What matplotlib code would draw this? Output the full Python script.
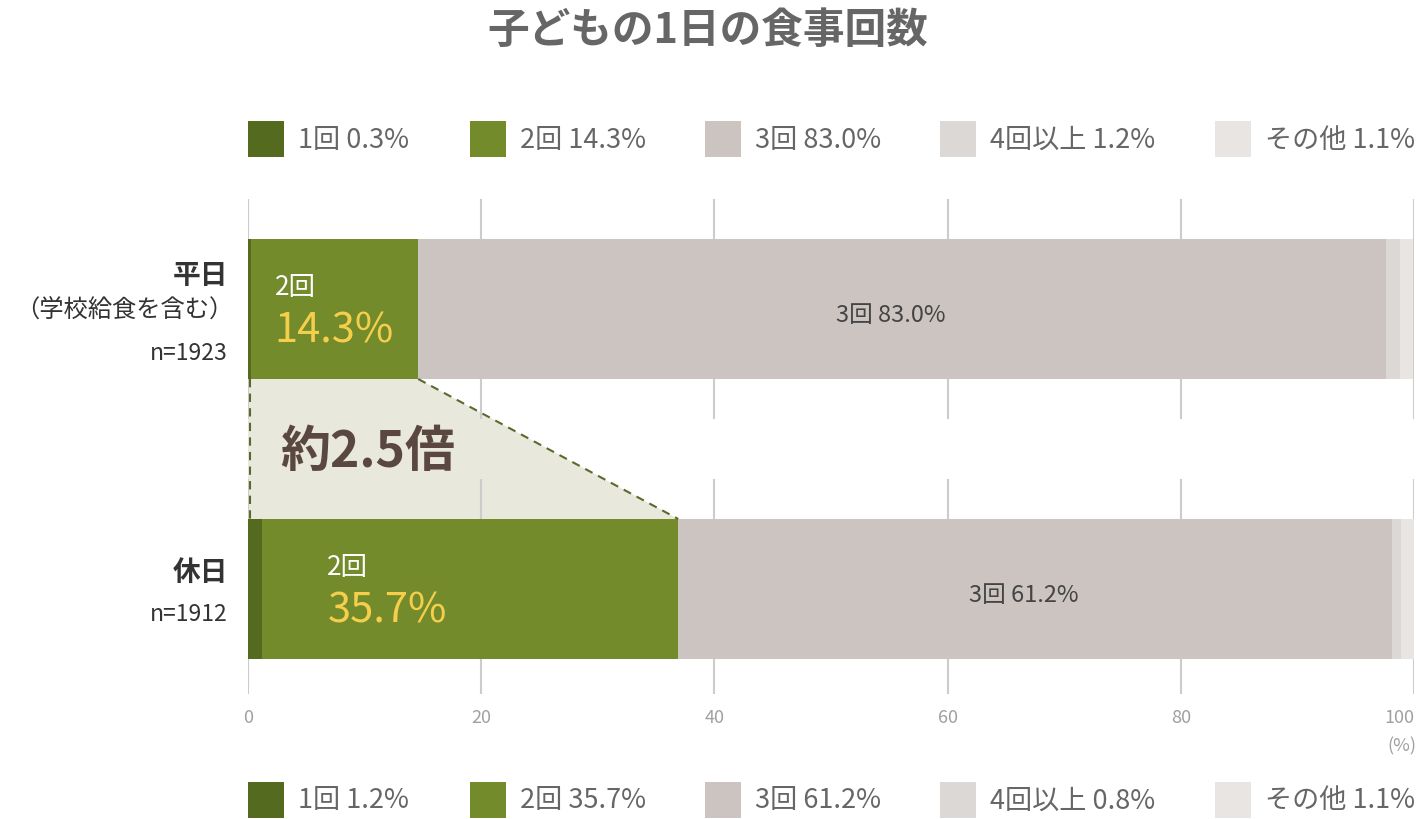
#!/usr/bin/env python3
import numpy as np
import matplotlib
matplotlib.use('Agg')
from matplotlib import pyplot as plt
from matplotlib.patches import Rectangle, Polygon

plt.rcParams['font.family'] = ['Noto Sans CJK JP', 'DejaVu Sans']

# data
title = '子どもの1日の食事回数'
categories = ['1回', '2回', '3回', '4回以上', 'その他']
weekday = [0.3, 14.3, 83.0, 1.2, 1.1]
holiday = [1.2, 35.7, 61.2, 0.8, 1.1]
row_names = ['平日', '休日']
row_notes = ['（学校給食を含む）', '']
row_n = ['n=1923', 'n=1912']
ratio_label = '約2.5倍'
xticks = [0, 20, 40, 60, 80, 100]

colors = ['#546a1e', '#738b2a', '#cbc4c0', '#dcd8d5', '#e9e5e2']

W, H = 1416, 820
fig = plt.figure(figsize=(W / 100, H / 100), dpi=100)


def fx(x):
    return x / W


def fy(y):
    return 1 - y / H


ax = fig.add_axes([fx(248), fy(695), fx(1414) - fx(248), (695 - 200) / H])
ax.set_xlim(0, 100)
ax.set_ylim(1.375, -0.393)

# gridlines broken in the middle
ax.vlines(xticks, -0.393, 0.393, color='#cccccc', lw=1.5, zorder=1)
ax.vlines(xticks, 0.607, 1.375, color='#cccccc', lw=1.5, zorder=1)

rows = [weekday, holiday]
bar_h = 0.5
for i, vals in enumerate(rows):
    left = 0
    for j, v in enumerate(vals):
        ax.barh(i, v, left=left, height=bar_h, color=colors[j], zorder=2)
        left += v

# connector between the 2回 segments
w_end = weekday[0] + weekday[1]
h_end = holiday[0] + holiday[1]
poly = Polygon([(0, 0.25), (w_end, 0.25), (h_end, 0.75), (0, 0.75)],
               closed=True, facecolor='#e8e8dd', edgecolor='none', zorder=0.5)
ax.add_patch(poly)
ax.plot([w_end, h_end], [0.25, 0.75], ls=(0, (4, 3)), color='#5b6a2c', lw=1.5, zorder=3)
ax.plot([0.15, 0.15], [0.25, 0.75], ls=(0, (4, 3)), color='#5b6a2c', lw=1.5, zorder=3)
ax.text(2.8, 0.51, ratio_label, fontsize=36, fontweight='bold', color='#5a4840',
        ha='left', va='center', zorder=4)

# in-bar labels
pct_x = [2.3, 6.8]
for i, vals in enumerate(rows):
    ax.text(pct_x[i], i - 0.08, categories[1], color='white', fontsize=19,
            ha='left', va='center', zorder=4)
    ax.text(pct_x[i], i + 0.075, f'{vals[1]:.1f}%', color='#f5cf4c', fontsize=30,
            ha='left', va='center', zorder=4)
    start = vals[0] + vals[1]
    ax.text(start + vals[2] / 2 - 1, i + 0.02, f'{categories[2]} {vals[2]:.1f}%',
            color='#444444', fontsize=17, ha='center', va='center', zorder=4)

ax.set_xticks(xticks)
ax.set_xticklabels([str(t) for t in xticks], color='#a0a0a0', fontsize=13)
ax.get_xticklabels()[-1].set_horizontalalignment('right')
ax.tick_params(axis='x', length=0, pad=10)
ax.set_yticks([])
for s in ax.spines.values():
    s.set_visible(False)

fig.text(fx(1416), fy(746), '(%)', color='#a0a0a0', fontsize=13, ha='right', va='center')

# row labels
fig.text(fx(228), fy(276), row_names[0], fontsize=20, fontweight='bold', color='#333333',
         ha='right', va='center')
fig.text(fx(233), fy(310), row_notes[0], fontsize=17.5, color='#333333', ha='right', va='center')
fig.text(fx(228), fy(354), row_n[0], fontsize=16.5, color='#333333', ha='right', va='center')
fig.text(fx(228), fy(573), row_names[1], fontsize=20, fontweight='bold', color='#333333',
         ha='right', va='center')
fig.text(fx(228), fy(615), row_n[1], fontsize=16.5, color='#333333', ha='right', va='center')

# title
fig.text(fx(708), fy(31), title, fontsize=30, fontweight='bold', color='#666666',
         ha='center', va='center')

# legends
leg_x = [248, 470, 705, 940, 1215]


def draw_legend(vals, yc):
    for k, (cat, v) in enumerate(zip(categories, vals)):
        fig.add_artist(Rectangle((fx(leg_x[k]), fy(yc + 18)), 36 / W, 36 / H,
                                 transform=fig.transFigure, facecolor=colors[k],
                                 edgecolor='none'))
        fig.text(fx(leg_x[k] + 50), fy(yc), f'{cat} {v:.1f}%', fontsize=19.5,
                 color='#666666', ha='left', va='center')


draw_legend(weekday, 140)
draw_legend(holiday, 801)

fig.savefig('out.png', dpi=100, facecolor='white')
